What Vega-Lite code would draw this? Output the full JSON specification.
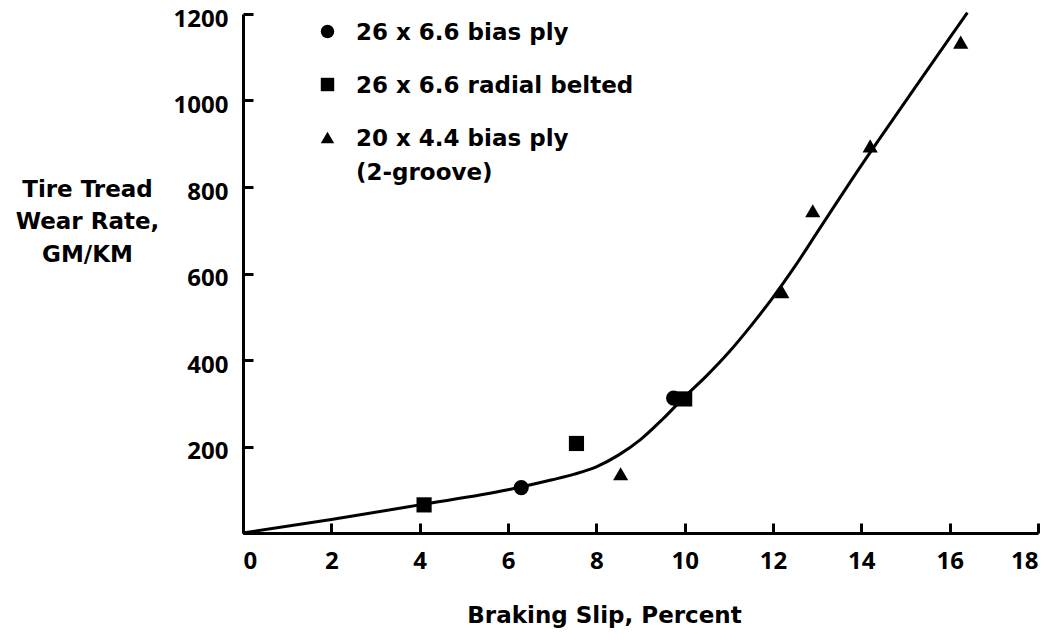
{
  "$schema": "https://vega.github.io/schema/vega-lite/v6.json",
  "width": 795,
  "height": 519,
  "autosize": {"type": "none"},
  "padding": {"left": 243, "top": 14, "right": 19, "bottom": 101},
  "background": "white",
  "config": {
    "view": {"stroke": null},
    "font": "Open Sans",
    "style": {"guide-label": {"dy": 8, "lineHeight": 34}}
  },
  "datasets": {
    "points": [
      {"tire": "26 x 6.6 bias ply", "slip": 6.3, "wear": 105},
      {"tire": "26 x 6.6 bias ply", "slip": 9.75, "wear": 312},
      {"tire": "26 x 6.6 radial belted", "slip": 4.1, "wear": 65},
      {"tire": "26 x 6.6 radial belted", "slip": 7.55, "wear": 207},
      {"tire": "26 x 6.6 radial belted", "slip": 10.0, "wear": 310},
      {"tire": "20 x 4.4 bias ply (2-groove)", "slip": 8.55, "wear": 137},
      {"tire": "20 x 4.4 bias ply (2-groove)", "slip": 12.2, "wear": 558},
      {"tire": "20 x 4.4 bias ply (2-groove)", "slip": 12.9, "wear": 745},
      {"tire": "20 x 4.4 bias ply (2-groove)", "slip": 14.2, "wear": 895},
      {"tire": "20 x 4.4 bias ply (2-groove)", "slip": 16.25, "wear": 1135}
    ],
    "curve": [
      {"slip": 0, "wear": 0},
      {"slip": 2, "wear": 31},
      {"slip": 4, "wear": 65},
      {"slip": 6, "wear": 100},
      {"slip": 7, "wear": 123},
      {"slip": 7.5, "wear": 136},
      {"slip": 8, "wear": 153},
      {"slip": 8.5, "wear": 180},
      {"slip": 9, "wear": 216},
      {"slip": 9.5, "wear": 263},
      {"slip": 10, "wear": 315},
      {"slip": 10.5, "wear": 364},
      {"slip": 11, "wear": 418},
      {"slip": 11.5, "wear": 479},
      {"slip": 12, "wear": 545},
      {"slip": 12.5, "wear": 617},
      {"slip": 13, "wear": 695},
      {"slip": 14, "wear": 850},
      {"slip": 15, "wear": 998},
      {"slip": 16, "wear": 1145},
      {"slip": 16.4, "wear": 1203}
    ]
  },
  "layer": [
    {
      "data": {"name": "curve"},
      "mark": {"type": "line", "interpolate": "monotone", "color": "black", "strokeWidth": 3},
      "encoding": {
        "x": {
          "field": "slip", "type": "quantitative",
          "scale": {"domain": [0, 18], "nice": false, "zero": true},
          "axis": {
            "title": "Braking Slip, Percent",
            "tickCount": 9,
            "grid": false,
            "ticks": true, "tickSize": -10, "tickColor": "black", "tickWidth": 3, "tickOpacity": 1,
            "domainColor": "black", "domainWidth": 3,
            "labelFontSize": 24, "labelFontWeight": "bold", "labelColor": "black",
            "labelPadding": 18, "labelBaseline": "top",
            "titleFont": "DejaVu Sans",
            "titleFontSize": 23, "titleFontWeight": "bold", "titleColor": "black",
            "titleBaseline": "alphabetic", "titleY": 89, "titleX": 361, "titleAlign": "center"
          }
        },
        "y": {
          "field": "wear", "type": "quantitative",
          "scale": {"domain": [0, 1200], "nice": false},
          "axis": {
            "title": ["Tire Tread", "Wear Rate,", "GM/KM"],
            "tickCount": 6,
            "format": "d",
            "labelExpr": "datum.value == 0 ? '' : datum.label",
            "grid": false,
            "ticks": true, "tickSize": -10, "tickColor": "black", "tickWidth": 3, "tickOpacity": 1,
            "domainColor": "black", "domainWidth": 3,
            "labelFontSize": 24, "labelFontWeight": "bold", "labelColor": "black",
            "labelPadding": 25, "labelOffset": -3,
            "titleFont": "DejaVu Sans",
            "titleFontSize": 23, "titleFontWeight": "bold", "titleColor": "black",
            "titleAngle": 0, "titleAlign": "center", "titleBaseline": "alphabetic",
            "titleX": -156, "titleY": 182, "titleLineHeight": 32.5
          }
        }
      }
    },
    {
      "data": {"name": "points"},
      "mark": {"type": "point", "filled": true, "opacity": 1, "size": 230, "color": "black"},
      "encoding": {
        "x": {"field": "slip", "type": "quantitative"},
        "y": {"field": "wear", "type": "quantitative"},
        "shape": {
          "field": "tire", "type": "nominal",
          "scale": {
            "domain": ["26 x 6.6 bias ply", "26 x 6.6 radial belted", "20 x 4.4 bias ply (2-groove)"],
            "range": ["circle", "square", "triangle-up"]
          },
          "legend": {
            "orient": "none", "legendX": 73, "legendY": 6,
            "title": null, "padding": 0,
            "symbolFillColor": "black", "symbolStrokeColor": "black", "symbolSize": 180,
            "symbolOpacity": 1,
            "labelFont": "DejaVu Sans",
            "labelFontSize": 23, "labelFontWeight": "bold", "labelColor": "black",
            "labelLimit": 0, "labelOffset": 17, "rowPadding": 28,
            "labelBaseline": "alphabetic",
            "labelExpr": "datum.label == '20 x 4.4 bias ply (2-groove)' ? ['20 x 4.4 bias ply', '(2-groove)'] : datum.label"
          }
        }
      }
    }
  ]
}
